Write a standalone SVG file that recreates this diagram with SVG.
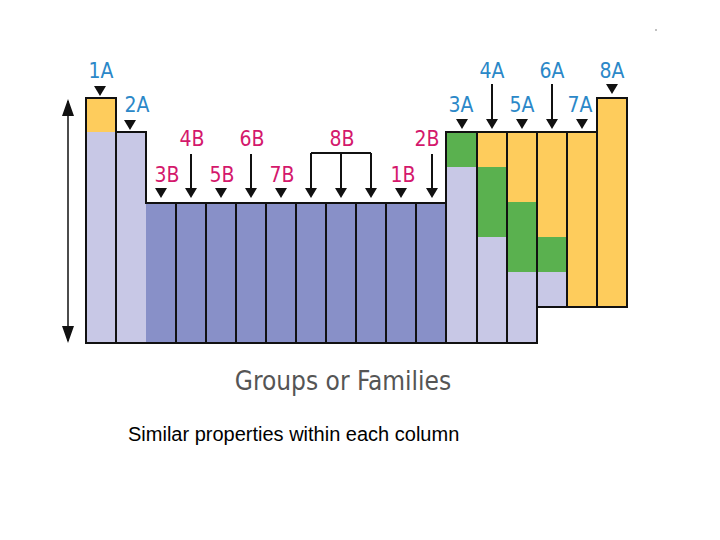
<svg xmlns="http://www.w3.org/2000/svg" width="720" height="540" viewBox="0 0 720 540">
<style>
.c{stroke:#111;stroke-width:2}
.y{fill:#fecc5c}.l{fill:#c8c8e6}.b{fill:#8890c8}.g{fill:#5ab14f}
.ta{font-family:"DejaVu Sans Condensed","DejaVu Sans",sans-serif;font-size:21px;fill:#2b88c8;text-anchor:middle}
.tb{font-family:"DejaVu Sans Condensed","DejaVu Sans",sans-serif;font-size:21px;fill:#d4186c;text-anchor:middle}
.ln{stroke:#111;stroke-width:2;fill:none}
</style>
<defs>
<marker id="ah" viewBox="0 0 10 10" refX="10" refY="5" markerWidth="5" markerHeight="5" orient="auto"><path d="M0,0L10,5L0,10z" fill="#111"/></marker>
<path id="tri" d="M-6,0L6,0L0,10z" fill="#111"/>
</defs>
<rect width="720" height="540" fill="#fff"/>
<g id="table">
<rect class="y" x="86" y="98" width="30" height="34"/><rect class="l" x="86" y="132" width="30" height="211"/>
<rect class="l" x="116" y="132" width="30" height="211"/>
<rect class="b" x="146" y="203" width="300" height="140"/>
<rect class="g" x="446" y="132" width="31" height="35"/><rect class="l" x="446" y="167" width="31" height="176"/>
<rect class="y" x="477" y="132" width="30" height="35"/><rect class="g" x="477" y="167" width="30" height="70"/><rect class="l" x="477" y="237" width="30" height="106"/>
<rect class="y" x="507" y="132" width="30" height="70"/><rect class="g" x="507" y="202" width="30" height="70"/><rect class="l" x="507" y="272" width="30" height="71"/>
<rect class="y" x="537" y="132" width="30" height="105"/><rect class="g" x="537" y="237" width="30" height="35"/><rect class="l" x="537" y="272" width="30" height="35"/>
<rect class="y" x="567" y="132" width="60" height="175"/><rect class="y" x="597" y="98" width="30" height="34"/>
<path class="ln" d="M86,343V98H116V132H146V203H446V132H597V98H627V307H537V343H86Z"/>
<path class="ln" d="M116,132V343M176,203V343M206,203V343M236,203V343M266,203V343M296,203V343M326,203V343M356,203V343M386,203V343M416,203V343M446,203V343M477,132V343M507,132V343M537,132V307M567,132V307M597,132V307"/>
</g>
<g id="labels">
<text class="ta" x="101" y="78">1A</text><text class="ta" x="137" y="112">2A</text>
<text class="ta" x="461" y="112">3A</text><text class="ta" x="492" y="78">4A</text><text class="ta" x="522" y="112">5A</text>
<text class="ta" x="552" y="78">6A</text><text class="ta" x="580" y="112">7A</text><text class="ta" x="612" y="78">8A</text>
<text class="tb" x="167" y="182">3B</text><text class="tb" x="192" y="146">4B</text><text class="tb" x="222" y="182">5B</text>
<text class="tb" x="252" y="146">6B</text><text class="tb" x="282" y="182">7B</text><text class="tb" x="342" y="146">8B</text>
<text class="tb" x="403" y="182">1B</text><text class="tb" x="427" y="146">2B</text>
</g>
<g id="connectors">
<use href="#tri" x="100" y="86"/><use href="#tri" x="130" y="120"/>
<use href="#tri" x="462" y="119"/><use href="#tri" x="522" y="119"/><use href="#tri" x="582" y="119"/><use href="#tri" x="612" y="84"/>
<use href="#tri" x="161" y="188"/><use href="#tri" x="221" y="188"/><use href="#tri" x="281" y="188"/><use href="#tri" x="401" y="188"/>
<path class="ln" d="M492,84V120M552,84V120M191,154V190M251,154V190M432,154V190M311,153H371M311,153V190M341,153V190M371,153V190"/>
<use href="#tri" x="492" y="119"/><use href="#tri" x="552" y="119"/>
<use href="#tri" x="191" y="188"/><use href="#tri" x="251" y="188"/><use href="#tri" x="432" y="188"/>
<use href="#tri" x="311" y="188"/><use href="#tri" x="341" y="188"/><use href="#tri" x="371" y="188"/>
<path d="M68,101V341" stroke="#111" stroke-width="1.5"/>
<path d="M62,116L68,99L74,116z M62,326L68,343L74,326z" fill="#111"/>
</g>
<text x="343" y="390" font-family="DejaVu Sans Condensed,DejaVu Sans,sans-serif" font-size="26" fill="#555" text-anchor="middle">Groups or Families</text>
<text x="128" y="441" font-family="Liberation Sans,Arial,sans-serif" font-size="20" fill="#000">Similar properties within each column</text>
<circle cx="656" cy="30" r="0.7" fill="#555"/>
</svg>
